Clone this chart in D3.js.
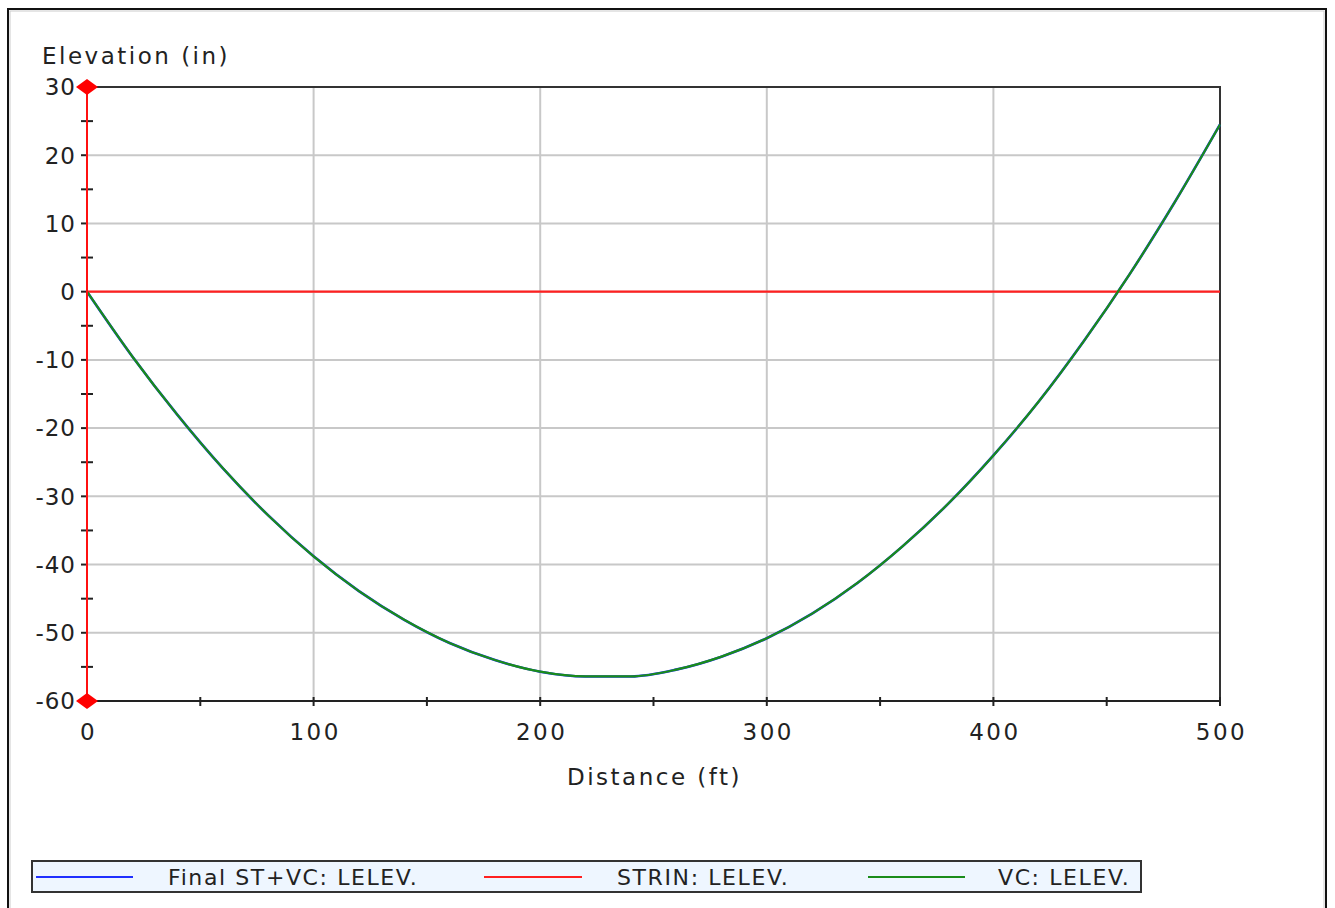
<!DOCTYPE html>
<html>
<head>
<meta charset="utf-8">
<script src="https://cdn.jsdelivr.net/npm/d3@7"></script>
<style>
  html, body { margin: 0; padding: 0; background: #fff; }
  svg { display: block; }
  text { font-family: "DejaVu Sans", sans-serif; fill: #222; letter-spacing: 2.5px; }
</style>
</head>
<body>
<svg id="chart" width="1335" height="908"></svg>
<script>
// ---- data ----
const stations   = [0, 20, 40, 60, 80, 100, 120, 140, 160, 180, 200, 220, 240, 260, 280, 300, 320, 340, 360, 380, 400, 420, 440, 460, 480, 500];
const vcElev     = [0, -9.5, -18.1, -25.9, -32.8, -38.8, -43.9, -48.1, -51.5, -54.0, -55.7, -56.4, -56.4, -55.4, -53.5, -50.8, -47.2, -42.7, -37.3, -31.1, -24.0, -16.1, -7.2, 2.5, 13.1, 24.5];
const finalElev  = [0, -9.5, -18.1, -25.9, -32.8, -38.8, -43.9, -48.1, -51.5, -54.0, -55.7, -56.4, -56.4, -55.4, -53.5, -50.8, -47.2, -42.7, -37.3, -31.1, -24.0, -16.1, -7.2, 2.5, 13.1, 24.5];
const strinElev  = [0, 0, 0, 0, 0, 0, 0, 0, 0, 0, 0, 0, 0, 0, 0, 0, 0, 0, 0, 0, 0, 0, 0, 0, 0, 0];
const xTicks     = [0, 100, 200, 300, 400, 500];
const xMinorTicks= [50, 150, 250, 350, 450];
const yTicks     = [30, 20, 10, 0, -10, -20, -30, -40, -50, -60];
const yMinorTicks= [25, 15, 5, -5, -15, -25, -35, -45, -55];
const seriesNames = ["Final ST+VC: LELEV.", "STRIN: LELEV.", "VC: LELEV."];
const seriesColors = ["#1f2fff", "#ff2020", "#1a8c1a"];
const yTitle = "Elevation (in)";
const xTitle = "Distance (ft)";

// ---- layout ----
const svg = d3.select("#chart");
const L = 87, R = 1220, T = 87, B = 701;
const x = d3.scaleLinear().domain([0, 500]).range([L, R]);
const y = d3.scaleLinear().domain([-60, 30]).range([B, T]);

// outer frame
svg.append("rect").attr("x", 8).attr("y", 9).attr("width", 1318).attr("height", 920)
  .attr("fill", "none").attr("stroke", "#111").attr("stroke-width", 2);
svg.append("rect").attr("x", 10).attr("y", 11).attr("width", 1314).attr("height", 916)
  .attr("fill", "none").attr("stroke", "#ccc").attr("stroke-width", 1);

// grid
const grid = svg.append("g");
grid.selectAll("line.vg").data(xTicks.filter(d => d > 0 && d < 500)).enter().append("line")
  .attr("x1", d => x(d)).attr("x2", d => x(d)).attr("y1", T).attr("y2", B)
  .attr("stroke", "#c8c8c8").attr("stroke-width", 2);
grid.selectAll("line.hg").data(yTicks.filter(d => d > -60 && d < 30)).enter().append("line")
  .attr("x1", L).attr("x2", R).attr("y1", d => y(d)).attr("y2", d => y(d))
  .attr("stroke", "#c8c8c8").attr("stroke-width", 2);

// plot border (top and right)
svg.append("path").attr("d", `M${L},${T}H${R}V${B}`).attr("fill", "none")
  .attr("stroke", "#333").attr("stroke-width", 2);

// series
const pts = vals => stations.map((s, i) => [s, vals[i]]);
const line = d3.line().x(d => x(d[0])).y(d => y(d[1])).curve(d3.curveMonotoneX);
const plotG = svg.append("g");
plotG.append("path").datum(pts(finalElev)).attr("d", line).attr("fill", "none")
  .attr("stroke", seriesColors[0]).attr("stroke-width", 2.6);
plotG.append("path").datum(pts(strinElev)).attr("d", line).attr("fill", "none")
  .attr("stroke", seriesColors[1]).attr("stroke-width", 2.2);
plotG.append("path").datum(pts(vcElev)).attr("d", line).attr("fill", "none")
  .attr("stroke", seriesColors[2]).attr("stroke-width", 2.2);

// x axis
svg.append("line").attr("x1", L).attr("x2", R).attr("y1", B).attr("y2", B)
  .attr("stroke", "#222").attr("stroke-width", 2);
svg.selectAll("line.xt").data(xTicks.concat(xMinorTicks)).enter().append("line")
  .attr("x1", d => x(d)).attr("x2", d => x(d)).attr("y1", B - 4).attr("y2", B + 5)
  .attr("stroke", "#222").attr("stroke-width", 2);
svg.selectAll("text.xl").data(xTicks).enter().append("text")
  .attr("x", d => x(d) + 1.5).attr("y", 740).attr("text-anchor", "middle")
  .attr("font-size", 23).text(d => d);
svg.append("text").attr("x", (L + R) / 2 + 1).attr("y", 785).attr("text-anchor", "middle")
  .attr("font-size", 23).text(xTitle);

// y axis
svg.selectAll("line.ytm").data(yMinorTicks).enter().append("line")
  .attr("x1", L - 6).attr("x2", L + 6).attr("y1", d => y(d)).attr("y2", d => y(d))
  .attr("stroke", "#222").attr("stroke-width", 2);
svg.selectAll("line.yt").data(yTicks).enter().append("line")
  .attr("x1", L - 6).attr("x2", L).attr("y1", d => y(d)).attr("y2", d => y(d))
  .attr("stroke", "#222").attr("stroke-width", 2);
svg.append("line").attr("x1", L).attr("x2", L).attr("y1", T).attr("y2", B)
  .attr("stroke", "#ff1010").attr("stroke-width", 2);
svg.selectAll("text.yl").data(yTicks).enter().append("text")
  .attr("x", 76).attr("y", d => y(d)).attr("dy", "0.36em").attr("text-anchor", "end")
  .attr("font-size", 23).style("letter-spacing", "1px").text(d => String(d));
svg.append("text").attr("x", 42).attr("y", 64).attr("font-size", 23).text(yTitle);

// diamonds at axis ends
svg.selectAll("path.dm").data([30, -60]).enter().append("path")
  .attr("d", d => `M${L - 11},${y(d)}L${L},${y(d) - 8}L${L + 11},${y(d)}L${L},${y(d) + 8}Z`)
  .attr("fill", "#ff0000");

// legend
const lg = svg.append("g");
lg.append("rect").attr("x", 32).attr("y", 861).attr("width", 1109).attr("height", 31)
  .attr("fill", "#eef6ff").attr("stroke", "#333").attr("stroke-width", 2);
const legX = [[36, 133, 168], [484, 582, 617], [868, 965, 998]];
seriesNames.forEach((n, i) => {
  lg.append("line").attr("x1", legX[i][0]).attr("x2", legX[i][1]).attr("y1", 877).attr("y2", 877)
    .attr("stroke", seriesColors[i]).attr("stroke-width", 2);
  lg.append("text").attr("x", legX[i][2]).attr("y", 877).attr("dy", "0.36em")
    .attr("font-size", 22).style("letter-spacing", "1.6px").text(n);
});
</script>
</body>
</html>
